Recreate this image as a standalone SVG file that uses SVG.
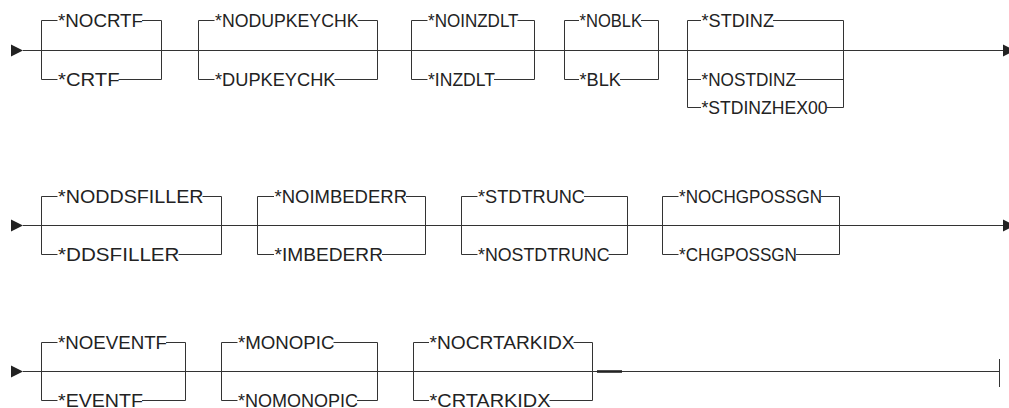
<svg xmlns="http://www.w3.org/2000/svg" width="1009" height="408" viewBox="0 0 1009 408">
<style>
.ln{fill:none;stroke:#333;stroke-width:1}
.thick{fill:none;stroke:#222;stroke-width:2.6}
.ar{fill:#222}
text{font-family:"Liberation Sans",Arial,sans-serif;font-size:18px;fill:#222}
</style>
<rect width="1009" height="408" fill="#fff"/>
<g id="connectors">
<!-- row 1 -->
<path class="ar" d="M11,44.5 L11,56.5 L23,50.5 Z"/>
<path class="ar" d="M1003,44.5 L1003,56.5 L1015,50.5 Z"/>
<path class="ln" d="M23,50.5 H1003"/>
<path class="ln" d="M57.5,20.5 H41.5 V79.5 H57.5 M142,20.5 H161.5 V79.5 H118.5"/>
<path class="ln" d="M214.5,20.5 H198.5 V79.5 H214.5 M357.5,20.5 H377.5 V79.5 H334.5"/>
<path class="ln" d="M427.5,20.5 H411.5 V79.5 H427.5 M517.5,20.5 H534.5 V79.5 H494"/>
<path class="ln" d="M579,20.5 H564.5 V79.5 H579 M641,20.5 H658.5 V79.5 H620"/>
<path class="ln" d="M701,20.5 H687.5 V107.5 H701 M687.5,79.5 H701 M773,20.5 H843.5 V107.5 H826.5 M795,79.5 H843.5"/>
<!-- row 2 -->
<path class="ar" d="M11,219.5 L11,231.5 L23,225.5 Z"/>
<path class="ar" d="M1003,219.5 L1003,231.5 L1015,225.5 Z"/>
<path class="ln" d="M23,225.5 H1003"/>
<path class="ln" d="M57.5,196.5 H41.5 V254.5 H57.5 M202.5,196.5 H221.5 V254.5 H178.5"/>
<path class="ln" d="M274,196.5 H257.5 V254.5 H274 M406,196.5 H425.5 V254.5 H382"/>
<path class="ln" d="M477.5,196.5 H461.5 V254.5 H477.5 M584,196.5 H627.5 V254.5 H608.5"/>
<path class="ln" d="M678.5,196.5 H662.5 V254.5 H678.5 M821,196.5 H839.5 V254.5 H796"/>
<!-- row 3 -->
<path class="ar" d="M11,365.5 L11,377.5 L23,371.5 Z"/>
<path class="ln" d="M23,371.5 H999"/>
<path class="thick" d="M597,371.5 H622"/>
<path class="ln" d="M999.5,359 V387"/>
<path class="ln" d="M57.5,342.5 H41.5 V400.5 H57.5 M166,342.5 H185.5 V400.5 H142"/>
<path class="ln" d="M237.5,342.5 H221.5 V400.5 H237.5 M333.5,342.5 H377.5 V400.5 H357"/>
<path class="ln" d="M429,342.5 H413.5 V400.5 H429 M573.5,342.5 H592.5 V400.5 H549.5"/>
</g>
<g id="g-crtf">
<text x="58" y="26.8" textLength="85" lengthAdjust="spacingAndGlyphs">*NOCRTF</text>
<text x="58" y="85.8" textLength="61.5" lengthAdjust="spacingAndGlyphs">*CRTF</text>
</g>
<g id="g-dupkeychk">
<text x="215" y="26.8" textLength="143.5" lengthAdjust="spacingAndGlyphs">*NODUPKEYCHK</text>
<text x="215" y="85.8" textLength="120.5" lengthAdjust="spacingAndGlyphs">*DUPKEYCHK</text>
</g>
<g id="g-inzdlt">
<text x="428" y="26.8" textLength="90.5" lengthAdjust="spacingAndGlyphs">*NOINZDLT</text>
<text x="428" y="85.8" textLength="67" lengthAdjust="spacingAndGlyphs">*INZDLT</text>
</g>
<g id="g-blk">
<text x="579.5" y="26.8" textLength="62.5" lengthAdjust="spacingAndGlyphs">*NOBLK</text>
<text x="579.5" y="85.8" textLength="41.5" lengthAdjust="spacingAndGlyphs">*BLK</text>
</g>
<g id="g-stdinz">
<text x="701.5" y="26.8" textLength="72.5" lengthAdjust="spacingAndGlyphs">*STDINZ</text>
<text x="701.5" y="85.8" textLength="94.5" lengthAdjust="spacingAndGlyphs">*NOSTDINZ</text>
<text x="701.5" y="113.8" textLength="126" lengthAdjust="spacingAndGlyphs">*STDINZHEX00</text>
</g>
<g id="g-ddsfiller">
<text x="58" y="202.8" textLength="145.5" lengthAdjust="spacingAndGlyphs">*NODDSFILLER</text>
<text x="58" y="260.8" textLength="121.5" lengthAdjust="spacingAndGlyphs">*DDSFILLER</text>
</g>
<g id="g-imbederr">
<text x="274.5" y="202.8" textLength="132.5" lengthAdjust="spacingAndGlyphs">*NOIMBEDERR</text>
<text x="274.5" y="260.8" textLength="108.5" lengthAdjust="spacingAndGlyphs">*IMBEDERR</text>
</g>
<g id="g-stdtrunc">
<text x="478" y="202.8" textLength="107" lengthAdjust="spacingAndGlyphs">*STDTRUNC</text>
<text x="478" y="260.8" textLength="131.5" lengthAdjust="spacingAndGlyphs">*NOSTDTRUNC</text>
</g>
<g id="g-chgpossgn">
<text x="679" y="202.8" textLength="143" lengthAdjust="spacingAndGlyphs">*NOCHGPOSSGN</text>
<text x="679" y="260.8" textLength="118" lengthAdjust="spacingAndGlyphs">*CHGPOSSGN</text>
</g>
<g id="g-eventf">
<text x="58" y="348.8" textLength="109" lengthAdjust="spacingAndGlyphs">*NOEVENTF</text>
<text x="58" y="406.8" textLength="85" lengthAdjust="spacingAndGlyphs">*EVENTF</text>
</g>
<g id="g-monopic">
<text x="238" y="348.8" textLength="96.5" lengthAdjust="spacingAndGlyphs">*MONOPIC</text>
<text x="238" y="406.8" textLength="120" lengthAdjust="spacingAndGlyphs">*NOMONOPIC</text>
</g>
<g id="g-crtarkidx">
<text x="429.5" y="348.8" textLength="145" lengthAdjust="spacingAndGlyphs">*NOCRTARKIDX</text>
<text x="429.5" y="406.8" textLength="121" lengthAdjust="spacingAndGlyphs">*CRTARKIDX</text>
</g>
</svg>
